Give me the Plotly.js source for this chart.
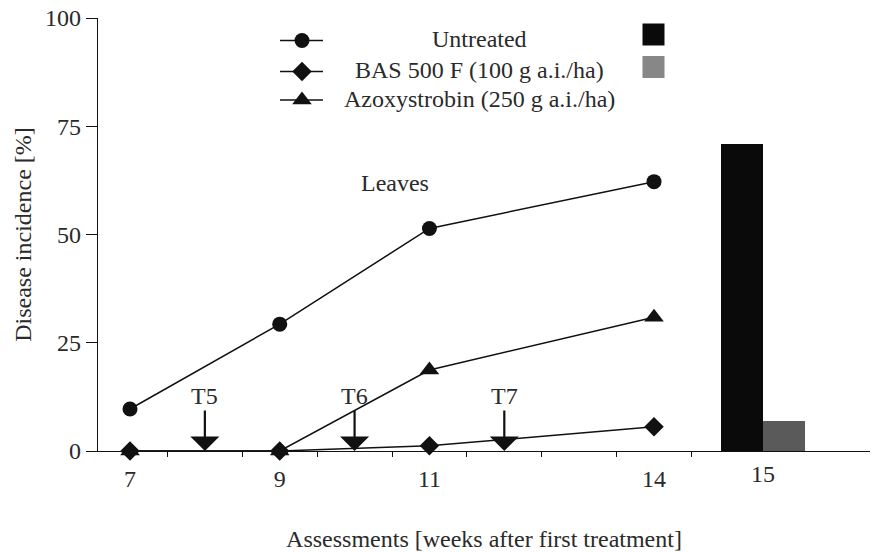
<!DOCTYPE html>
<html>
<head>
<meta charset="utf-8">
<script src="https://cdn.plot.ly/plotly-3.0.1.min.js"></script>
<style>
  html, body { margin: 0; padding: 0; background: #fff; }
  #chart { width: 872px; height: 552px; }
</style>
</head>
<body>
<div id="chart"></div>
<script>
// Assessment weeks (leaves) and disease incidence in %
const weeks = [7, 9, 11, 14];
const untreated = [9.7, 29.3, 51.4, 62.2];
const bas500f = [0, 0, 1.2, 5.6];
const azoxystrobin = [0, 0, 18.7, 30.9];

// Clusters assessment (week 15)
const clusterWeek = ['15'];
const clusterUntreated = [71.0];
const clusterBas = [7.0];

// Treatment timings
const treatWeeks = [8, 10, 12];
const treatLabels = ['T5', 'T6', 'T7'];

const seriesNames = ['Untreated', 'BAS 500 F (100 g a.i./ha)', 'Azoxystrobin (250 g a.i./ha)'];

const FONT = '"Liberation Serif", "Times New Roman", Times, serif';
const TXT = '#2a2a2a';
const INK = '#111';
const FS = 24;

// geometry of the plot area in pixels (used by the hand-built legend overlay)
const L = 98, R = 870, T = 18, B = 451;

const markerSize = {'circle': 15, 'diamond': 15, 'triangle-up': 17};

function lineTrace(y, name, symbol) {
  return {
    type: 'scatter', mode: 'lines+markers', x: weeks, y: y, name: name,
    line: {color: INK, width: 1.5},
    marker: {symbol: symbol, size: markerSize[symbol], color: INK},
    cliponaxis: false, showlegend: false, xaxis: 'x', yaxis: 'y'
  };
}

const traces = [
  lineTrace(untreated, seriesNames[0], 'circle'),
  lineTrace(bas500f, seriesNames[1], 'diamond'),
  lineTrace(azoxystrobin, seriesNames[2], 'triangle-up'),
  {type: 'bar', x: clusterWeek, y: clusterUntreated, name: seriesNames[0],
   marker: {color: '#0a0a0a', line: {width: 0}}, xaxis: 'x2', yaxis: 'y', showlegend: false},
  {type: 'bar', x: clusterWeek, y: clusterBas, name: seriesNames[1],
   marker: {color: '#5a5a5a', line: {width: 0}}, xaxis: 'x2', yaxis: 'y', showlegend: false}
];

// legend key: sample lines with markers, plus bar swatches (pixel overlay axes)
const keyRows = [40.5, 71.5, 100];
const keySymbols = ['circle', 'diamond', 'triangle-up'];
keyRows.forEach(function (ry, i) {
  traces.push({
    type: 'scatter', mode: 'lines', x: [280, 323], y: [ry, ry],
    line: {color: INK, width: 1.5},
    xaxis: 'x3', yaxis: 'y3', showlegend: false, hoverinfo: 'skip', cliponaxis: false
  });
  traces.push({
    type: 'scatter', mode: 'markers', x: [302], y: [ry],
    marker: {symbol: keySymbols[i], size: markerSize[keySymbols[i]], color: INK, line: {width: 0}},
    xaxis: 'x3', yaxis: 'y3', showlegend: false, hoverinfo: 'skip', cliponaxis: false
  });
});
traces.push({
  type: 'scatter', mode: 'markers', x: [653.5, 653.5], y: [34.5, 67],
  marker: {symbol: 'square', size: 22, color: ['#0a0a0a', '#878787'], line: {width: 0}},
  xaxis: 'x3', yaxis: 'y3', showlegend: false, hoverinfo: 'skip', cliponaxis: false
});

const annotations = [];
seriesNames.forEach(function (n, i) {
  annotations.push({xref: 'x3', yref: 'y3', x: 479, y: keyRows[i] - 1.5, text: n, showarrow: false,
    xanchor: 'center', yanchor: 'middle', font: {family: FONT, size: FS, color: TXT}});
});
annotations.push({xref: 'x', yref: 'y', x: 10.54, y: 62, text: 'Leaves', showarrow: false,
  font: {family: FONT, size: FS, color: TXT}});
annotations.push({xref: 'x2', yref: 'y', x: '15', y: 77.3, text: 'Clusters', showarrow: false,
  font: {family: FONT, size: FS, color: TXT}});
treatWeeks.forEach(function (w, i) {
  annotations.push({xref: 'x', yref: 'y', x: w, y: 0, text: treatLabels[i],
    showarrow: true, ax: 0, ay: -55, arrowhead: 1, arrowsize: 2.2, arrowwidth: 2.2,
    arrowcolor: INK, standoff: 0, startstandoff: 0,
    font: {family: FONT, size: FS, color: TXT}});
});

const layout = {
  width: 872, height: 552,
  margin: {l: L, r: 872 - R, t: T, b: 552 - B},
  paper_bgcolor: '#fff', plot_bgcolor: 'rgba(0,0,0,0)',
  font: {family: FONT, size: FS, color: TXT},
  barmode: 'group', bargap: 0, bargroupgap: 0,
  xaxis: {
    range: [7 - (130 - L) / 74.86, 7 + (R - 130) / 74.86],
    tickvals: weeks, ticktext: weeks.map(String), ticks: '', ticklabelstandoff: 6,
    tickfont: {family: FONT, size: FS, color: TXT},
    minor: {tickvals: [7.5, 8.5, 9.5, 10.5, 11.5, 12.5, 13.5, 14.5], ticks: 'outside',
            ticklen: 5, tickwidth: 1, tickcolor: INK, showgrid: false},
    showline: true, linecolor: INK, linewidth: 1.2, showgrid: false, zeroline: false,
    title: {text: 'Assessments [weeks after first treatment]', standoff: 39,
            font: {family: FONT, size: FS, color: TXT}},
    automargin: false, fixedrange: true
  },
  xaxis2: {
    domain: [(721 - L) / (R - L), (805 - L) / (R - L)], anchor: 'y', type: 'category',
    range: [-0.5, 0.5], autorange: false,
    tickfont: {family: FONT, size: FS, color: TXT},
    ticks: '', showline: false, showgrid: false, zeroline: false, ticklabelstandoff: 6,
    automargin: false
  },
  yaxis: {
    range: [0, 100], tickvals: [0, 25, 50, 75, 100], ticks: 'outside', ticklen: 11,
    tickwidth: 1, tickcolor: INK, tickfont: {family: FONT, size: FS, color: TXT},
    showline: true, linecolor: INK, linewidth: 1.2, showgrid: false, zeroline: false,
    title: {text: 'Disease incidence [%]', standoff: 6, font: {family: FONT, size: FS, color: TXT}},
    automargin: false
  },
  xaxis3: {overlaying: 'x', range: [L, R], visible: false, anchor: 'y3'},
  yaxis3: {overlaying: 'y', range: [B, T], visible: false, anchor: 'x3'},
  annotations: annotations,
  showlegend: false
};

Plotly.newPlot('chart', traces, layout, {staticPlot: true, displayModeBar: false});
</script>
</body>
</html>
